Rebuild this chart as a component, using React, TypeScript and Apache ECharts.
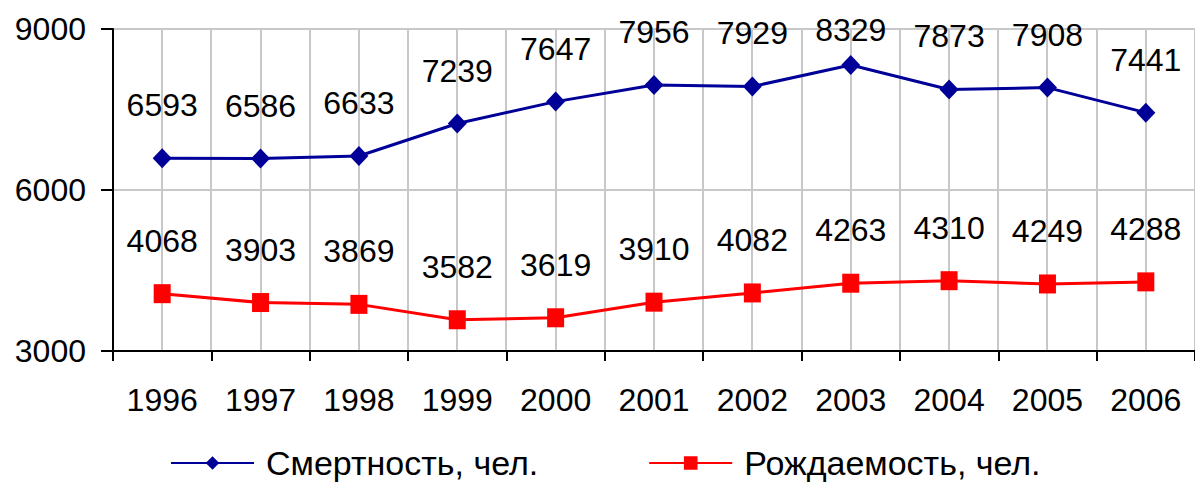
import React, { useEffect, useRef } from "react";
import * as echarts from "echarts";

const years = ["1996", "1997", "1998", "1999", "2000", "2001", "2002", "2003", "2004", "2005", "2006"];
const mortality = [6593, 6586, 6633, 7239, 7647, 7956, 7929, 8329, 7873, 7908, 7441];
const births = [4068, 3903, 3869, 3582, 3619, 3910, 4082, 4263, 4310, 4249, 4288];
const seriesNames = ["Смертность, чел.", "Рождаемость, чел."];
const yMin = 3000;
const yMax = 9000;
const yStep = 3000;

const FONT = "'Liberation Sans', Arial, sans-serif";
const GRID_GRAY = "#c8c8c8";

export default function App() {
  const ref = useRef<HTMLDivElement>(null);
  useEffect(() => {
    if (!ref.current) return;
    const chart = echarts.init(ref.current, undefined, { renderer: "svg" });
    const labelStyle = {
      show: true,
      position: "inside" as const,
      offset: [0, -53],
      color: "#000",
      fontSize: 32,
      fontFamily: FONT,
    };
    chart.setOption({
      animation: false,
      backgroundColor: "#fff",
      textStyle: { fontFamily: FONT },
      grid: { left: 113, top: 29, width: 1089, height: 322 },
      legend: {
        left: 165,
        top: 441,
        itemWidth: 83,
        itemHeight: 17,
        itemGap: 110,
        textStyle: {
          fontSize: 34,
          lineHeight: 34,
          color: "#000",
          fontFamily: FONT,
          padding: [0, 0, 0, 7],
        },
        data: seriesNames,
      },
      xAxis: {
        type: "category",
        data: years,
        boundaryGap: true,
        axisLine: { show: true, lineStyle: { color: "#000", width: 2 } },
        axisTick: { show: true, length: 10, interval: 0, lineStyle: { color: "#000", width: 2 } },
        axisLabel: { color: "#000", fontSize: 32, fontFamily: FONT, margin: 33, interval: 0 },
        splitLine: { show: false },
        z: 5,
      },
      yAxis: {
        type: "value",
        min: yMin,
        max: yMax,
        interval: yStep,
        axisLine: { show: true, lineStyle: { color: "#000", width: 2 } },
        axisTick: { show: true, length: 12, lineStyle: { color: "#000", width: 2 } },
        axisLabel: {
          color: "#000",
          fontSize: 32,
          fontFamily: FONT,
          margin: 27,
          formatter: (v: number) => String(v),
        },
        splitLine: { show: true, lineStyle: { color: GRID_GRAY, width: 2 } },
        z: 5,
      },
      series: [
        {
          type: "custom",
          silent: true,
          z: 1,
          data: years.map((_, i) => [i]),
          encode: { x: 0 },
          renderItem: (params: any, api: any) => {
            const i = api.value(0);
            const top = api.coord([i, yMax]);
            const bottom = api.coord([i, yMin]);
            const w = api.size([1, 0])[0];
            const style = { stroke: GRID_GRAY, lineWidth: 2 };
            const cx = Math.round(top[0]);
            const bx = Math.round(top[0] + w / 2);
            return {
              type: "group",
              children: [
                { type: "line", shape: { x1: cx, y1: top[1], x2: cx, y2: bottom[1] }, style },
                { type: "line", shape: { x1: bx, y1: top[1], x2: bx, y2: bottom[1] }, style },
              ],
            };
          },
        },
        {
          name: seriesNames[0],
          type: "line",
          data: mortality,
          symbol: "diamond",
          symbolSize: [19, 20],
          lineStyle: { color: "#000099", width: 3 },
          itemStyle: { color: "#000099" },
          label: labelStyle,
          z: 10,
        },
        {
          name: seriesNames[1],
          type: "line",
          data: births,
          symbol: "rect",
          symbolSize: [17, 19],
          lineStyle: { color: "#ff0000", width: 3 },
          itemStyle: { color: "#ff0000" },
          label: labelStyle,
          z: 10,
        },
      ],
    });
    // keep data labels inside the plot area (top limit), like the original
    const clampOffsets = (vals: number[]) =>
      vals.map((v, i) => {
        const p = chart.convertToPixel({ xAxisIndex: 0, yAxisIndex: 0 }, [i, v]) as number[];
        const off = Math.min(53, p[1] - 30);
        return { value: v, label: { offset: [0, -off] } };
      });
    chart.setOption({
      series: [{}, { data: clampOffsets(mortality) }, { data: clampOffsets(births) }],
    });
    return () => chart.dispose();
  }, []);
  return (
    <div
      ref={ref}
      style={{ position: "absolute", left: 0, top: 0, width: 1195, height: 483, overflow: "hidden" }}
    />
  );
}
